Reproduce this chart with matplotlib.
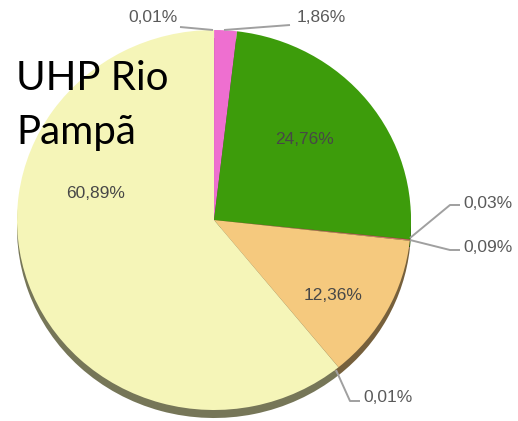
import matplotlib.pyplot as plt
import numpy as np

# slice values (%), clockwise from 12 o'clock
values = [0.01, 1.86, 24.76, 0.03, 0.09, 12.36, 0.01, 60.89]
labels = ['0,01%', '1,86%', '24,76%', '0,03%', '0,09%', '12,36%', '0,01%', '60,89%']
colors = ['#cc3333', '#ee6fd0', '#3d9c0b', '#d9534f', '#e07a7a', '#f5c97e', '#b8a060', '#f5f5b8']
title_lines = ['UHP Rio', 'Pampã']

W, H = 518, 421
S = 197 / 190  # slight vertical squash like the original


def fy(py):
    return (H - py) * S


fig = plt.figure(figsize=(W / 100, H / 100), dpi=100)
ax = fig.add_axes([0, 0, 1, 1])

cx, cy, r = 214, 220, 197
depth = 8

# darker "3D" side underneath
dark = []
for c in colors:
    rgb = np.array([int(c[i:i + 2], 16) for i in (1, 3, 5)]) / 255
    dark.append(tuple(rgb * 0.48))
ax.pie(values, colors=dark, startangle=90, counterclock=False, radius=r,
       center=(cx, fy(cy + depth)), wedgeprops=dict(linewidth=0))
ax.pie(values, colors=colors, startangle=90, counterclock=False, radius=r,
       center=(cx, fy(cy)), wedgeprops=dict(linewidth=0))

ax.set_aspect('auto')
ax.set_xlim(0, W)
ax.set_ylim(0, H * S)
ax.axis('off')

pct_font = dict(family='Liberation Sans', fontsize=12.5, color='#474747')

# labels inside the large slices
inside = {2: (305, 140), 5: (333, 295), 7: (96, 193)}
for i, (px, py) in inside.items():
    ax.text(px, fy(py), labels[i], ha='center', va='center', **pct_font)

# leader lines and outside labels
line_kw = dict(color='#a0a0a0', lw=1.4, solid_capstyle='butt')
out_font = dict(pct_font, color='#5a5a5a')
outside = [
    (0, [(213, 30), (180, 27)], (178, 18), 'right'),
    (1, [(224, 30), (290, 25)], (297, 18), 'left'),
    (3, [(410, 238), (450, 205), (460, 205)], (463, 203), 'left'),
    (4, [(410, 240), (450, 250), (460, 250)], (463, 248), 'left'),
    (6, [(336, 370), (350, 401), (360, 401)], (363, 398), 'left'),
]
for i, pts, (tx, ty), ha in outside:
    xs = [p[0] for p in pts]
    ys = [fy(p[1]) for p in pts]
    ax.plot(xs, ys, **line_kw)
    ax.text(tx, fy(ty), labels[i], ha=ha, va='center', **out_font)

# big title text at top left
title_font = dict(family='Lato', fontsize=29, color='black')
ax.text(16, fy(90), title_lines[0], ha='left', va='baseline', **title_font)
ax.text(16, fy(144), title_lines[1], ha='left', va='baseline', **title_font)

fig.savefig('out.png', dpi=100)
